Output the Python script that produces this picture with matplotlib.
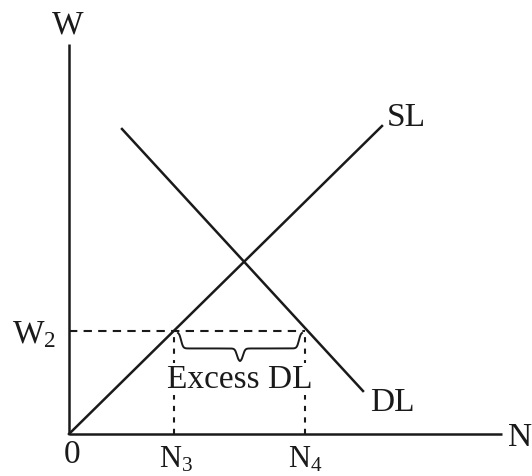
import numpy as np
import matplotlib
matplotlib.use("Agg")
import matplotlib.pyplot as plt

plt.rcParams['font.family'] = ['Liberation Serif', 'DejaVu Serif']
plt.rcParams['mathtext.fontset'] = 'custom'
plt.rcParams['mathtext.rm'] = 'Liberation Serif'
plt.rcParams['mathtext.it'] = 'Liberation Serif:italic'

# Data (economic units)
sl_x = [0, 313]
sl_y = [0, 308]
dl_x = [53, 294]
dl_y = [305, 43]
w2 = 103
n3 = 105
n4 = 236
x_max = 433
y_max = 390

fig = plt.figure(figsize=(5.32, 4.77), dpi=100)
ax = fig.add_axes([0, 0, 1, 1])
ax.set_xlim(-69, 463)
ax.set_ylim(-42, 435)
ax.axis('off')

ink = '#1a1a1a'
# axes
ax.plot([0, x_max], [0, 0], color=ink, lw=1.8, solid_capstyle='butt')
ax.plot([0, 0], [0, y_max], color=ink, lw=1.8, solid_capstyle='butt')

# curves
ax.plot(sl_x, sl_y, color=ink, lw=1.8)
ax.plot(dl_x, dl_y, color=ink, lw=1.8)

# dashed guide lines
ax.plot([0, n4], [w2, w2], color=ink, lw=1.5, ls=(0, (4, 3)))
ax.plot([n3, n3], [0, w2], color=ink, lw=1.5, ls=(0, (2.5, 3)))
ax.plot([n4, n4], [0, w2], color=ink, lw=1.5, ls=(0, (2.5, 3)))

# curly brace
def brace(x0, x1, ytop, depth):
    t = np.linspace(0, 1, 400)
    xs = x0 + (x1 - x0) * t
    half = np.where(t < 0.5, t, 1 - t)
    k = 0.05
    y = (1 / (1 + np.exp(-half / k * 6 + 3)) - 1 / (1 + np.exp(3))) * 0.55 \
        + (1 / (1 + np.exp(-(half - 0.5) / k * 6 - 3))) * 0.45
    y = y / y.max()
    return xs, ytop - depth * y

bx, by = brace(109, 233, 101, 28)
ax.plot(bx, by, color=ink, lw=1.4)

fs = 24
ax.text(171, 55, 'Excess DL', fontsize=fs, ha='center', va='center',
        color=ink, bbox=dict(facecolor='white', edgecolor='none', pad=0.5))
ax.text(-1, 410, 'W', fontsize=fs, ha='center', va='center', color=ink)
ax.text(451, -3, 'N', fontsize=fs, ha='center', va='center', color=ink)
ax.text(3, -20, '0', fontsize=fs, ha='center', va='center', color=ink)
ax.text(-35, w2 - 3, r'W$_\mathrm{2}$', fontsize=fs, ha='center', va='center', color=ink)
ax.text(n3 + 2, -25, r'N$_\mathrm{3}$', fontsize=22, ha='center', va='center', color=ink)
ax.text(n4, -25, r'N$_\mathrm{4}$', fontsize=22, ha='center', va='center', color=ink)
ax.text(337, 317, 'SL', fontsize=fs, ha='center', va='center', color=ink)
ax.text(323, 32, 'DL', fontsize=fs, ha='center', va='center', color=ink)

fig.savefig('out.png', dpi=100)
